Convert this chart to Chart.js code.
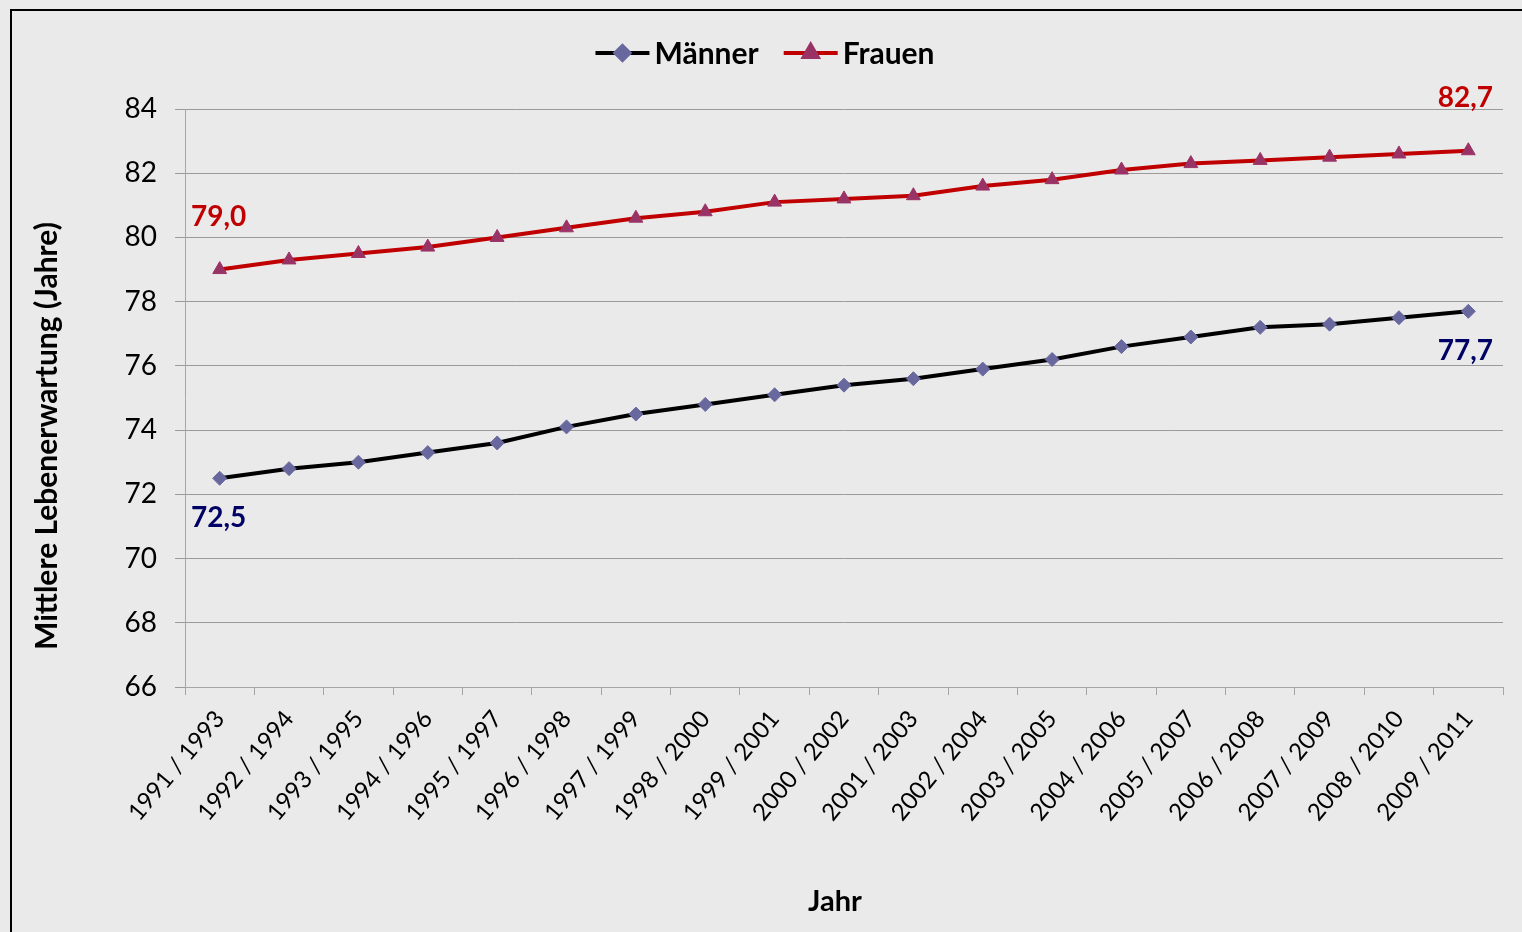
<!DOCTYPE html>
<html lang="de">
<head>
  <meta charset="UTF-8">
  <title>Mittlere Lebenserwartung</title>
  <script src="https://cdn.jsdelivr.net/npm/chart.js"></script>
  <style>
    html, body { margin: 0; padding: 0; background: #eaeaea; overflow: hidden; }
    .frame {
      position: absolute; left: 10px; top: 9px; width: 1540px; height: 960px;
      border-left: 2px solid #000; border-top: 2px solid #000;
    }
    #lifeChart { position: absolute; left: 0; top: 0; }
  </style>
</head>
<body>
  <div class="frame"></div>
  <canvas id="lifeChart" width="1522" height="932"></canvas>

<script>
  // Sterbetafel-Zeiträume
  const periods = [
    '1991 / 1993', '1992 / 1994', '1993 / 1995', '1994 / 1996', '1995 / 1997',
    '1996 / 1998', '1997 / 1999', '1998 / 2000', '1999 / 2001', '2000 / 2002',
    '2001 / 2003', '2002 / 2004', '2003 / 2005', '2004 / 2006', '2005 / 2007',
    '2006 / 2008', '2007 / 2009', '2008 / 2010', '2009 / 2011'
  ];
  const maenner = [72.5, 72.8, 73.0, 73.3, 73.6, 74.1, 74.5, 74.8, 75.1, 75.4,
                   75.6, 75.9, 76.2, 76.6, 76.9, 77.2, 77.3, 77.5, 77.7];
  const frauen  = [79.0, 79.3, 79.5, 79.7, 80.0, 80.3, 80.6, 80.8, 81.1, 81.2,
                   81.3, 81.6, 81.8, 82.1, 82.3, 82.4, 82.5, 82.6, 82.7];
  const yTicks = [66, 68, 70, 72, 74, 76, 78, 80, 82, 84];

  const FONT = 'Lato, "Open Sans", sans-serif';

  function fmt(v) {
    return v.toFixed(1).replace('.', ',');
  }

  // Legende, Achsentitel und Werte am Anfang/Ende der Linien
  const extras = {
    id: 'extras',
    afterDatasetsDraw(chart) {
      const ctx = chart.ctx;
      ctx.save();

      // Werte an erstem und letztem Punkt
      chart.data.datasets.forEach((ds, i) => {
        const meta = chart.getDatasetMeta(i);
        const last = ds.data.length - 1;
        [0, last].forEach(idx => {
          const pt = meta.data[idx];
          ctx.font = 'bold 28px ' + FONT;
          ctx.fillStyle = ds.labelColor;
          ctx.textAlign = 'center';
          ctx.textBaseline = 'middle';
          ctx.fillText(fmt(ds.data[idx]), pt.x - (idx === last ? 3 : 1), pt.y + ds.labelOffset);
        });
      });

      // Legende oben mittig
      ctx.font = 'bold 30px ' + FONT;
      const lineLen = 54, gap = 5, spacing = 25;
      const items = chart.data.datasets.map(ds => ({ ds, w: ctx.measureText(ds.label).width }));
      const total = items.reduce((s, it) => s + lineLen + gap + it.w, 0) + spacing * (items.length - 1);
      let x = 765 - total / 2;
      const ly = 53;
      items.forEach(it => {
        const ds = it.ds;
        ctx.strokeStyle = ds.borderColor;
        ctx.lineWidth = 4;
        ctx.beginPath();
        ctx.moveTo(x, ly);
        ctx.lineTo(x + lineLen, ly);
        ctx.stroke();
        ctx.fillStyle = ds.pointBackgroundColor;
        ctx.strokeStyle = ds.pointBackgroundColor;
        Chart.helpers.drawPoint(ctx, {
          pointStyle: ds.pointStyle, radius: ds.pointRadius, borderWidth: 1, rotation: 0
        }, x + lineLen / 2, ly);
        ctx.fillStyle = '#000';
        ctx.textAlign = 'left';
        ctx.textBaseline = 'middle';
        ctx.fillText(ds.label, x + lineLen + gap, ly + 1);
        x += lineLen + gap + it.w + spacing;
      });

      // Achsentitel
      ctx.fillStyle = '#000';
      ctx.font = 'bold 29px ' + FONT;
      ctx.textAlign = 'center';
      ctx.textBaseline = 'middle';
      ctx.fillText('Jahr', 835, 902);

      ctx.font = 'bold 30px ' + FONT;
      ctx.translate(47, 436);
      ctx.rotate(-Math.PI / 2);
      ctx.fillText('Mittlere Lebenerwartung (Jahre)', 0, 0);

      ctx.restore();
    }
  };

  new Chart(document.getElementById('lifeChart'), {
    type: 'line',
    data: {
      labels: periods,
      datasets: [
        {
          label: 'Männer',
          data: maenner,
          borderColor: '#000000',
          borderWidth: 4,
          pointStyle: 'rectRot',
          pointRadius: 7,
          pointBackgroundColor: '#68689e',
          pointBorderColor: '#68689e',
          pointBorderWidth: 1,
          labelColor: '#000066',
          labelOffset: 40,
          tension: 0
        },
        {
          label: 'Frauen',
          data: frauen,
          borderColor: '#c00000',
          borderWidth: 4,
          pointStyle: 'triangle',
          pointRadius: 8,
          pointBackgroundColor: '#993366',
          pointBorderColor: '#993366',
          pointBorderWidth: 1,
          labelColor: '#c00000',
          labelOffset: -53,
          tension: 0
        }
      ]
    },
    options: {
      responsive: false,
      animation: false,
      layout: { padding: { top: 109, right: 19, bottom: 0, left: 0 } },
      plugins: {
        legend: { display: false },
        tooltip: { enabled: false }
      },
      scales: {
        x: {
          offset: true,
          afterFit(scale) { scale.height = 932 - 687; },
          grid: {
            offset: true,
            drawOnChartArea: false,
            drawTicks: true,
            tickLength: 8,
            color: '#a6a6a6'
          },
          border: { color: '#a6a6a6', width: 1 },
          ticks: {
            color: '#000',
            font: { family: FONT, size: 24 },
            minRotation: 50,
            maxRotation: 50,
            autoSkip: false,
            padding: 10
          }
        },
        y: {
          min: yTicks[0],
          max: yTicks[yTicks.length - 1],
          afterFit(scale) { scale.width = 185; },
          afterBuildTicks(scale) { scale.ticks = yTicks.map(v => ({ value: v })); },
          grid: {
            color: '#9a9a9a',
            tickLength: 10,
            lineWidth: 1
          },
          border: { color: '#a6a6a6', width: 1 },
          ticks: {
            color: '#000',
            font: { family: FONT, size: 28 },
            padding: 18
          }
        }
      }
    },
    plugins: [extras]
  });
</script>
</body>
</html>
